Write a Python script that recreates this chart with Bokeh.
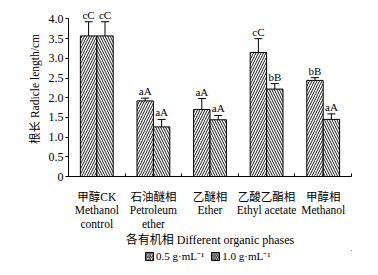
from bokeh.plotting import figure
from bokeh.layouts import column
from bokeh.models import (ColumnDataSource, FixedTicker, Whisker, TeeHead, Legend, LegendItem, Range1d)
from bokeh.core.properties import value
from bokeh.embed import file_html
from bokeh.resources import INLINE

categories = ["甲醇CK\nMethanol\ncontrol", "石油醚相\nPetroleum\nether", "乙醚相\nEther",
              "乙酸乙酯相\nEthyl acetate", "甲醇相\nMethanol"]
series_names = ["0.5 g·mL⁻¹", "1.0 g·mL⁻¹"]
low_vals = [3.57, 1.92, 1.70, 3.15, 2.44]
low_err = [0.36, 0.07, 0.28, 0.35, 0.07]
low_sig = ["cC", "aA", "aA", "cC", "bB"]
high_vals = [3.57, 1.26, 1.44, 2.22, 1.45]
high_err = [0.36, 0.19, 0.11, 0.14, 0.14]
high_sig = ["cC", "aA", "aA", "bB", "aA"]
y_ticks = [0, 0.5, 1.0, 1.5, 2.0, 2.5, 3.0, 3.5, 4.0]

SERIF = "'Liberation Serif', 'Noto Sans CJK SC'"
BW = 0.29
PATTERNS = ["/", "\\"]

p = figure(width=378, height=250, output_backend="svg", toolbar_location=None,
           x_range=Range1d(0, 5), y_range=Range1d(0, 4.444),
           min_border_left=68, min_border_right=27, min_border_top=1, min_border_bottom=69)
p.outline_line_color = None
p.grid.grid_line_color = None
p.background_fill_color = "white"

centers = [i + 0.5 for i in range(len(categories))]

def series(vals, errs, sig, offset, pattern):
    xs = [c + offset for c in centers]
    tops = [v + e for v, e in zip(vals, errs)]
    src = ColumnDataSource(dict(x=xs, top=vals, up=tops, sig=sig))
    p.vbar(x="x", top="top", width=BW, source=src, fill_color="white",
           line_color="black", line_width=1, hatch_pattern=pattern,
           hatch_color="black", hatch_scale=5, hatch_weight=0.9)
    w = Whisker(base="x", lower="top", upper="up", source=src, dimension="height",
                line_color="black", line_width=1, lower_head=None,
                upper_head=TeeHead(size=8, line_color="black", line_width=1))
    p.add_layout(w)
    p.text(x="x", y="up", text="sig", source=src, text_align="center",
           text_baseline="bottom", y_offset=-1, text_font=value(SERIF),
           text_font_size="11px", text_color="black")

series(low_vals, low_err, low_sig, -BW / 2, PATTERNS[0])
series(high_vals, high_err, high_sig, BW / 2, PATTERNS[1])

# y axis
ya = p.yaxis[0]
ya.ticker = FixedTicker(ticks=y_ticks, minor_ticks=[])
ya.bounds = (0, 4.0)
ya.major_label_overrides = {0: "0", 0.5: "0.5", 1.0: "1.0", 1.5: "1.5", 2.0: "2.0",
                            2.5: "2.5", 3.0: "3.0", 3.5: "3.5", 4.0: "4.0"}
ya.major_tick_in = 0
ya.major_tick_out = 3
ya.major_label_standoff = 2
ya.major_label_text_font = SERIF
ya.major_label_text_font_size = "12px"
ya.major_label_text_color = "black"
ya.axis_line_color = "black"
ya.major_tick_line_color = "black"
ya.axis_label = "根长 Radicle length/cm"
ya.axis_label_text_font = SERIF
ya.axis_label_text_font_size = "11.5px"
ya.axis_label_text_font_style = "normal"
ya.axis_label_text_color = "black"
ya.axis_label_standoff = 5

# x axis
xa = p.xaxis[0]
xa.ticker = FixedTicker(ticks=centers, minor_ticks=[0, 1, 2, 3, 4, 5])
xa.major_label_overrides = {c: lab for c, lab in zip(centers, categories)}
xa.major_tick_in = 0
xa.major_tick_out = 0
xa.minor_tick_in = 3
xa.minor_tick_out = 0
xa.minor_tick_line_color = "black"
xa.axis_line_color = "black"
xa.major_label_standoff = 14
xa.major_label_text_font = SERIF
xa.major_label_text_font_size = "11.5px"
xa.major_label_text_color = "black"
xa.major_label_text_line_height = 1.15
xa.axis_label = "各有机相 Different organic phases"
xa.axis_label_text_font = SERIF
xa.axis_label_text_font_size = "12px"
xa.axis_label_text_font_style = "normal"
xa.axis_label_text_color = "black"
xa.axis_label_standoff = 0

# legend strip below the plot
lg = figure(width=378, height=25, output_backend="svg", toolbar_location=None,
            x_range=Range1d(0, 1), y_range=Range1d(0, 1),
            min_border=0, min_border_left=0, min_border_right=0,
            min_border_top=0, min_border_bottom=0)
lg.axis.visible = False
lg.grid.grid_line_color = None
lg.outline_line_color = None
items = []
for name, pat in zip(series_names, PATTERNS):
    r = lg.vbar(x=[5], top=[5], bottom=[4], width=0.1, fill_color="white", line_color="black",
                line_width=1, hatch_pattern=pat, hatch_color="black",
                hatch_scale=3.5, hatch_weight=0.9)
    items.append(LegendItem(label=name, renderers=[r]))
legend = Legend(items=items, orientation="horizontal", location=(76, 12))
legend.border_line_color = None
legend.background_fill_alpha = 0
legend.label_text_font = SERIF
legend.label_text_font_size = "11px"
legend.label_text_color = "black"
legend.glyph_width = 10
legend.glyph_height = 10
legend.label_standoff = 2
legend.spacing = 6
legend.padding = 0
legend.margin = 0
lg.add_layout(legend)

layout = column(p, lg, spacing=0)
open("out.html", "w").write(file_html(layout, INLINE))
